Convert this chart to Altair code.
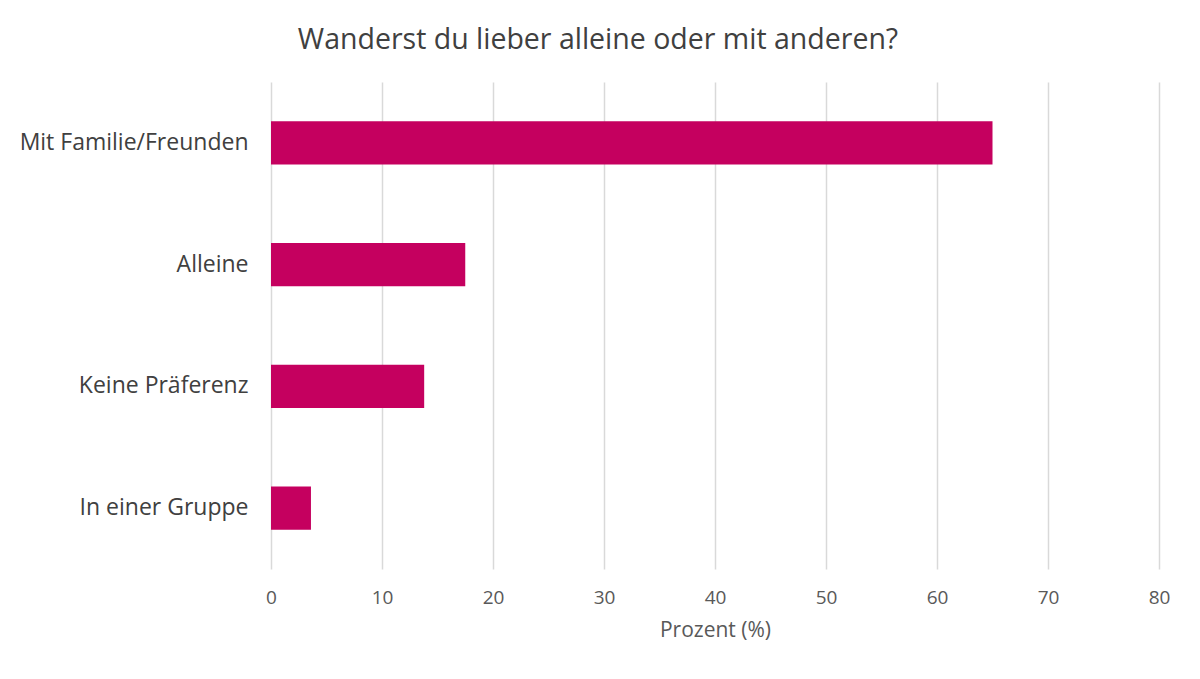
import altair as alt
import pandas as pd

categories = ["Mit Familie/Freunden", "Alleine", "Keine Präferenz", "In einer Gruppe"]
values = [65.0, 17.5, 13.8, 3.6]

df = pd.DataFrame({"Antwort": categories, "Prozent": values})

chart = alt.Chart(df).mark_bar(color="#c5005f").encode(
    x=alt.X("Prozent:Q",
            scale=alt.Scale(domain=[0, 80], nice=False),
            axis=alt.Axis(values=[0, 10, 20, 30, 40, 50, 60, 70, 80],
                          title="Prozent (%)", titleFontSize=21, titleFontWeight="normal",
                          titleColor="#595959", titlePadding=12,
                          labelFontSize=19, labelColor="#595959", labelPadding=19,
                          labelFlush=False,
                          ticks=False, domain=False,
                          grid=True, gridColor="#d9d9d9", gridWidth=1.5)),
    y=alt.Y("Antwort:N", sort=categories,
            scale=alt.Scale(paddingInner=0.645, paddingOuter=0.3225),
            axis=alt.Axis(title=None, labelFontSize=23, labelColor="#404040",
                          labelPadding=23, labelLimit=400,
                          ticks=False, domain=False, grid=False)),
).properties(
    width=888,
    height=487,
    title=alt.TitleParams("Wanderst du lieber alleine oder mit anderen?",
                          fontSize=28.5, fontWeight="normal", color="#404040",
                          font="Open Sans", anchor="middle", dx=-117, offset=28),
    autosize=alt.AutoSizeParams(type="none"),
    padding={"left": 263, "top": 74, "right": 30, "bottom": 90},
).configure(font="Open Sans").configure_view(stroke=None)

chart.save("out.html", embed_options={"renderer": "svg", "actions": False})
